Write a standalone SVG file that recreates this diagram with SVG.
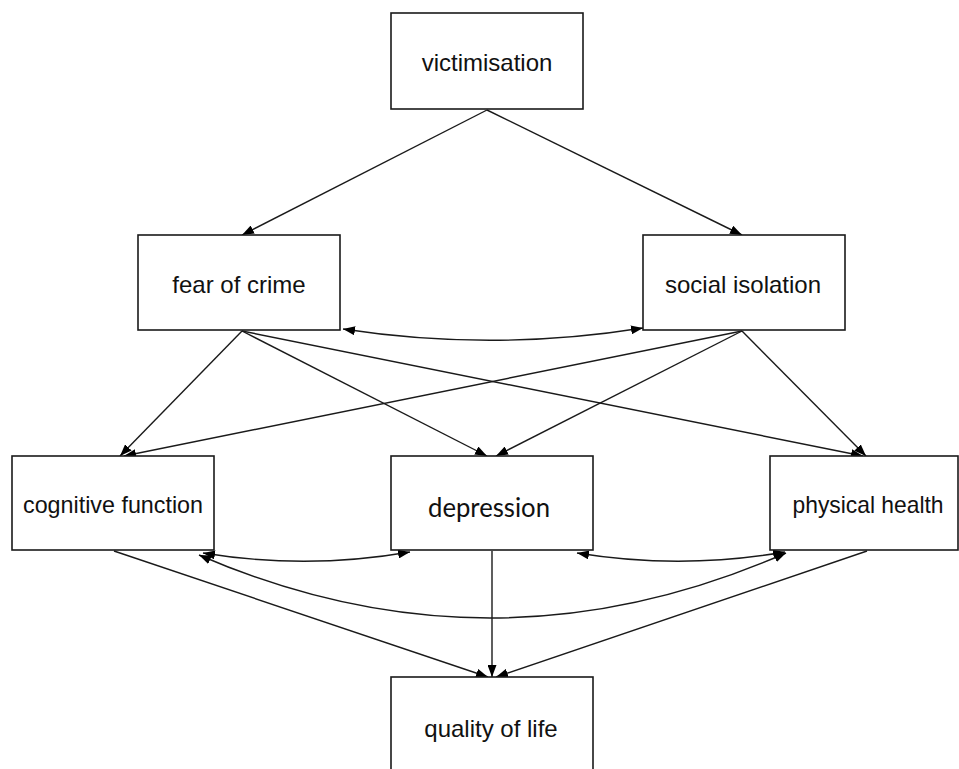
<svg xmlns="http://www.w3.org/2000/svg" width="959" height="769" viewBox="0 0 959 769">
<defs>
<style>
.box{fill:#fff;stroke:#1a1a1a;stroke-width:1.6}
.lbl{font-family:"Liberation Sans",Arial,sans-serif;font-size:24px;fill:#111;text-anchor:middle}
.lbl2{font-family:Lato,"Open Sans",sans-serif;font-size:27px;fill:#111;text-anchor:middle}
.edge{fill:none;stroke:#1a1a1a;stroke-width:1.4}
</style>
<marker id="ah" viewBox="0 0 12 9" markerWidth="12" markerHeight="9" refX="12" refY="4.5" orient="auto-start-reverse" markerUnits="userSpaceOnUse">
<path d="M0,0 L12,4.5 L0,9 z" fill="#000"/>
</marker>
</defs>
<rect width="959" height="769" fill="#fff"/>
<g id="connectors">
<line class="edge" x1="487" y1="110" x2="242" y2="235" marker-end="url(#ah)"/>
<line class="edge" x1="487" y1="110" x2="742" y2="235" marker-end="url(#ah)"/>
<path class="edge" d="M343,329 Q493,352 643,328" marker-start="url(#ah)" marker-end="url(#ah)"/>
<line class="edge" x1="242" y1="331" x2="120" y2="456" marker-end="url(#ah)"/>
<line class="edge" x1="242" y1="331" x2="487" y2="456" marker-end="url(#ah)"/>
<line class="edge" x1="242" y1="331" x2="863" y2="456" marker-end="url(#ah)"/>
<line class="edge" x1="742" y1="331" x2="124" y2="456" marker-end="url(#ah)"/>
<line class="edge" x1="742" y1="331" x2="496" y2="456" marker-end="url(#ah)"/>
<line class="edge" x1="742" y1="331" x2="866" y2="456" marker-end="url(#ah)"/>
<path class="edge" d="M203,553 Q307,570 410,552" marker-start="url(#ah)" marker-end="url(#ah)"/>
<path class="edge" d="M577,553 Q681,570 785,552" marker-start="url(#ah)" marker-end="url(#ah)"/>
<path class="edge" d="M199,555 Q492,682 786,553" marker-start="url(#ah)" marker-end="url(#ah)"/>
<line class="edge" x1="114" y1="551" x2="488" y2="677" marker-end="url(#ah)"/>
<line class="edge" x1="492" y1="551" x2="492" y2="677" marker-end="url(#ah)"/>
<line class="edge" x1="867" y1="551" x2="496" y2="677" marker-end="url(#ah)"/>
</g>
<g id="victimisation">
<rect class="box" x="391" y="13" width="192" height="96"/>
<text class="lbl" x="487" y="71">victimisation</text>
</g>
<g id="fear_of_crime">
<rect class="box" x="138" y="235" width="202" height="95"/>
<text class="lbl" x="239" y="293">fear of crime</text>
</g>
<g id="social_isolation">
<rect class="box" x="643" y="235" width="202" height="95"/>
<text class="lbl" x="743" y="293">social isolation</text>
</g>
<g id="cognitive_function">
<rect class="box" x="12" y="456" width="202" height="94"/>
<text class="lbl" x="113" y="513" textLength="180" lengthAdjust="spacingAndGlyphs">cognitive function</text>
</g>
<g id="depression">
<rect class="box" x="391" y="456" width="202" height="94"/>
<text class="lbl2" x="489" y="517" textLength="122" lengthAdjust="spacingAndGlyphs">depression</text>
</g>
<g id="physical_health">
<rect class="box" x="770" y="456" width="188" height="94"/>
<text class="lbl" x="868" y="513" textLength="151" lengthAdjust="spacingAndGlyphs">physical health</text>
</g>
<g id="quality_of_life">
<rect class="box" x="391" y="677" width="202" height="100"/>
<text class="lbl" x="491" y="737">quality of life</text>
</g>
</svg>
